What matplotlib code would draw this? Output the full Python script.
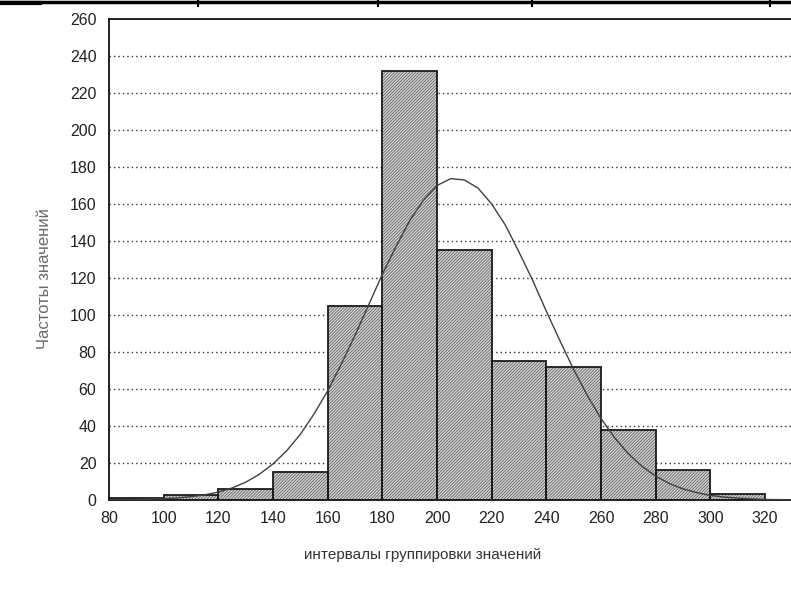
import matplotlib
matplotlib.use("Agg")
import matplotlib.pyplot as plt
from matplotlib.lines import Line2D

# Histogram: grouping intervals and their frequencies
bin_edges = [80, 100, 120, 140, 160, 180, 200, 220, 240, 260, 280, 300, 320]
frequencies = [1, 2.5, 6, 15, 105, 232, 135, 75, 72, 38, 16, 3]

# Fitted distribution curve, sampled every 5 units
curve_x = [80, 85, 90, 95, 100, 105, 110, 115, 120, 125, 130, 135, 140, 145,
           150, 155, 160, 165, 170, 175, 180, 185, 190, 195, 200, 205, 210,
           215, 220, 225, 230, 235, 240, 245, 250, 255, 260, 265, 270, 275,
           280, 285, 290, 295, 300, 305, 310, 315, 320, 325, 330]
curve_y = [0.1, 0.1, 0.2, 0.4, 0.7, 1.1, 1.8, 2.8, 4.3, 6.5, 9.6, 13.9, 19.5,
           26.6, 35.5, 46.5, 59, 73.5, 89, 105.5, 122, 137, 151, 162, 170,
           173.7, 173, 168.6, 160, 148.6, 134, 118.7, 102, 86, 70.5, 56.5,
           44, 33.6, 25, 18.2, 12.9, 8.9, 6.0, 4.0, 2.5, 1.6, 1.0, 0.6, 0.3,
           0.2, 0.1]

y_ticks = list(range(0, 261, 20))
x_ticks = list(range(80, 321, 20))

x_label = "интервалы группировки значений"
y_label = "Частоты значений"

plt.rcParams["font.family"] = ["Liberation Sans", "DejaVu Sans"]
plt.rcParams["hatch.linewidth"] = 0.55

W, H = 791, 593
fig = plt.figure(figsize=(W / 100, H / 100), dpi=100)
fig.patch.set_facecolor("white")

left, right, top, bottom = 109, 791, 19, 500
ax = fig.add_axes([left / W, 1 - bottom / H, (right - left) / W, (bottom - top) / H])
ax.set_facecolor("white")

ax.set_xlim(80, 329.5)
ax.set_ylim(0, 260)

# dotted horizontal grid
for yv in y_ticks[1:-1]:
    ax.axhline(yv, color="#333333", lw=1.0, ls=(0, (1, 2.2)), zorder=1)

lefts = bin_edges[:-1]
widths = [b - a for a, b in zip(bin_edges[:-1], bin_edges[1:])]

# hatched fill
ax.bar(lefts, frequencies, width=widths, align="edge", color="#d6d6d6",
       edgecolor="#5a5a5a", hatch="/" * 11, linewidth=0, zorder=2)
# bar outlines
ax.bar(lefts, frequencies, width=widths, align="edge", fill=False,
       edgecolor="#1a1a1a", linewidth=1.3, zorder=3)

ax.plot(curve_x, curve_y, color="#404040", lw=1.0, zorder=4)

ax.set_xticks(x_ticks)
ax.set_yticks(y_ticks)
ax.tick_params(axis="both", length=0, labelsize=11.5, colors="#222222")
ax.tick_params(axis="y", pad=9)
ax.tick_params(axis="x", pad=8)

for side in ("left", "top", "bottom"):
    ax.spines[side].set_color("#111111")
    ax.spines[side].set_linewidth(1.3)
ax.spines["right"].set_visible(False)

fig.text(423 / W, 1 - 555 / H, x_label, ha="center", va="center",
         fontsize=11, color="#333333")
fig.text(45 / W, 1 - 279 / H, y_label, ha="center", va="center",
         rotation=90, fontsize=12, color="#6a6a6a")

# page rule across the top with short vertical stubs
fig.add_artist(Line2D([0, 1], [1 - 1.5 / H, 1 - 1.5 / H], color="black",
                      lw=2.5, transform=fig.transFigure))
for xs in (198, 378, 532, 770):
    fig.add_artist(Line2D([xs / W, xs / W], [1, 1 - 6 / H], color="black",
                          lw=1.5, transform=fig.transFigure))
fig.add_artist(Line2D([2 / W, 40 / W], [1 - 3 / H, 1 - 3 / H], color="black",
                      lw=3, transform=fig.transFigure))

fig.savefig("out.png", dpi=100, facecolor="white")
